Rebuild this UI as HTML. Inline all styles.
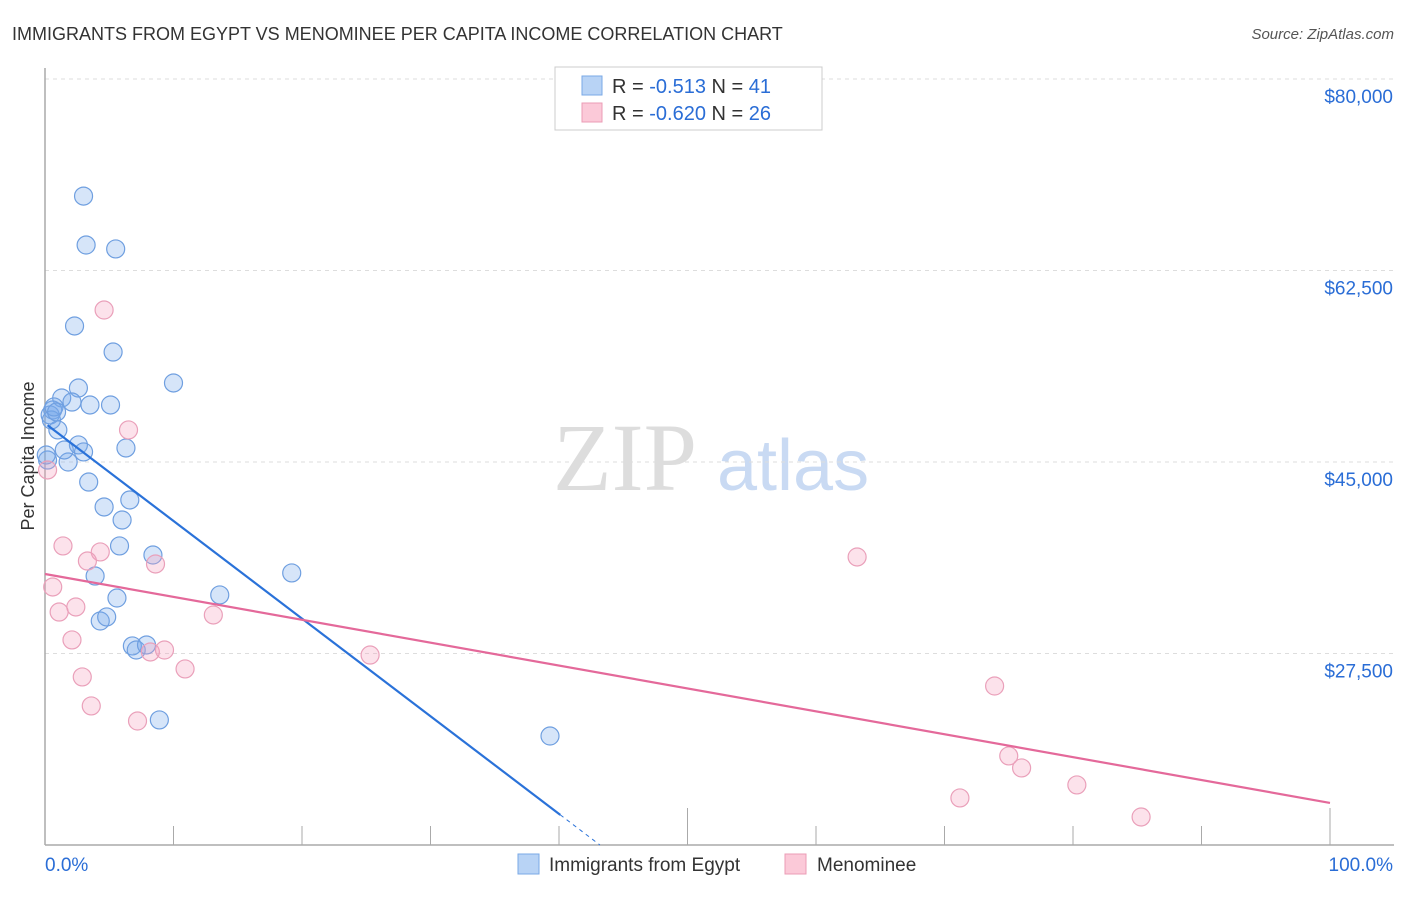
<!DOCTYPE html>
<html><head><meta charset="utf-8"><style>
body{margin:0;background:#fff;font-family:"Liberation Sans",sans-serif;}
</style></head><body>
<svg id="chart" width="1406" height="892" xmlns="http://www.w3.org/2000/svg" font-family="Liberation Sans, sans-serif">
<text x="12" y="40" font-size="18" fill="#333">IMMIGRANTS FROM EGYPT VS MENOMINEE PER CAPITA INCOME CORRELATION CHART</text>
<text x="1394" y="39" font-size="15" fill="#555" text-anchor="end" font-style="italic">Source: ZipAtlas.com</text>
<text x="553" y="490" font-size="96" fill="#ddd" font-family="Liberation Serif, serif">ZIP</text>
<text x="717" y="490" font-size="72" fill="#c9daf3">atlas</text>
<text transform="translate(34,456) rotate(-90)" text-anchor="middle" font-size="18" fill="#333">Per Capita Income</text>
<g id="grid"></g><g id="axes"></g><g id="pts"></g><g id="lines"></g>
<g>
<rect x="555" y="67" width="267" height="63" fill="#fff" stroke="#ccc"/>
<rect x="582" y="76" width="20" height="19" fill="#b8d3f5" stroke="#7aa8e6"/>
<text x="612" y="93" font-size="20" fill="#333">R = <tspan fill="#2a6dd6"> -0.513</tspan>   N = <tspan fill="#2a6dd6">41</tspan></text>
<rect x="582" y="103" width="20" height="19" fill="#fbc9d8" stroke="#eb9cb6"/>
<text x="612" y="120" font-size="20" fill="#333">R = <tspan fill="#2a6dd6">-0.620</tspan>   N = <tspan fill="#2a6dd6">26</tspan></text>
</g>
<g>
<rect x="518" y="854" width="21" height="20" fill="#b8d3f5" stroke="#7aa8e6"/>
<text x="549" y="871" font-size="19" fill="#333">Immigrants from Egypt</text>
<rect x="785" y="854" width="21" height="20" fill="#fbc9d8" stroke="#eb9cb6"/>
<text x="817" y="871" font-size="19" fill="#333">Menominee</text>
</g>
<text x="45" y="871" font-size="19" fill="#2a6dd6">0.0%</text>
<text x="1393" y="871" font-size="19" fill="#2a6dd6" text-anchor="end">100.0%</text>
</svg>
<script>
const yTicks=[80000,62500,45000,27500];
const yTickLabels=["$80,000","$62,500","$45,000","$27,500"];
const egyptX=[3.0,3.2,5.5,2.3,5.3,10.0,2.6,1.3,2.1,3.5,5.1,0.6,0.4,1.0,2.6,3.0,6.3,1.8,1.5,3.4,4.6,6.6,6.0,5.8,8.4,3.9,19.2,5.6,13.6,4.3,4.8,6.8,7.1,7.9,8.9,39.3,0.5,0.2,0.7,0.9,0.1];
const egyptY=[69300,64830,64470,57430,55050,52220,51760,50850,50480,50210,50210,49750,49300,47930,46560,45920,46280,45000,46100,43170,40890,41530,39700,37330,36500,34580,34860,32570,32850,30470,30840,28190,27820,28280,21430,19960,48840,45180,50030,49570,45640];
const menX=[4.6,6.5,0.2,1.4,4.3,3.3,8.6,63.2,0.6,2.4,1.1,13.1,2.1,8.2,9.3,10.9,2.9,3.6,7.2,25.3,73.9,75.0,76.0,80.3,71.2,85.3];
const menY=[58890,47930,44270,37330,36780,35950,35680,36320,33580,31750,31290,31020,28740,27640,27820,26090,25360,22710,21330,27360,24530,18140,17040,15490,14300,12560];
const NS="http://www.w3.org/2000/svg";
const X0=45,X1=1330,YTOP=79,YBOT=845;
const xs=p=>X0+(X1-X0)*p/100;
const ys=v=>YTOP+(80000-v)*191.5/17500;
function mk(t,a,parent){const e=document.createElementNS(NS,t);for(const k in a)e.setAttribute(k,a[k]);document.getElementById(parent).appendChild(e);return e;}
yTicks.forEach((v,i)=>{
 const l=mk('line',{x1:X0,x2:1394,y1:ys(v),y2:ys(v),stroke:'#ddd','stroke-dasharray':'4,4'},'grid');
 
 
 const t=mk('text',{x:1393,y:ys(v)+24,'text-anchor':'end','font-size':19,fill:'#2a6dd6'},'grid');
 t.textContent=yTickLabels[i];
 
 
});
const ax=mk('line',{x1:X0,x2:1394,y1:YBOT,y2:YBOT,stroke:'#aaa','stroke-width':1.5},'axes');


const ay=mk('line',{x1:X0,x2:X0,y1:68,y2:YBOT,stroke:'#aaa','stroke-width':1.5},'axes');


for(let i=1;i<=10;i++){
 const tk=mk('line',{x1:xs(i*10),x2:xs(i*10),y1:YBOT,y2:(i==5||i==10)?808:826,stroke:'#aaa'},'axes');
 
 
}
function pts(X,Y,fill,stroke,name){
 X.forEach((x,i)=>{
  const c=mk('circle',{cx:xs(x),cy:ys(Y[i]),r:9,fill:fill,stroke:stroke,'stroke-width':1.2},'pts');
  
  
 });
}
pts(egyptX,egyptY,'rgba(120,170,235,0.3)','#6f9fe0','egypt-point');
pts(menX,menY,'rgba(245,160,190,0.3)','#eaa0ba','menominee-point');
function fit(X,Y){const n=X.length;let mx=0,my=0;X.forEach((x,i)=>{mx+=x;my+=Y[i];});mx/=n;my/=n;let sxy=0,sxx=0;X.forEach((x,i)=>{sxy+=(x-mx)*(Y[i]-my);sxx+=(x-mx)**2;});const b=sxy/sxx;return [my-b*mx,b];}
const [ea,eb]=fit(egyptX,egyptY);
const eMax=Math.max(...egyptX);
const xEnd=Math.min(100,(10000-ea)/eb);
const xSolid=Math.min(eMax+0.8,xEnd);
const bl=mk('line',{x1:xs(0.2),y1:ys(ea+eb*0.2),x2:xs(xSolid),y2:ys(ea+eb*xSolid),stroke:'#2a72d9','stroke-width':2.2},'lines');


const bd=mk('line',{x1:xs(xSolid),y1:ys(ea+eb*xSolid),x2:xs(xEnd),y2:ys(ea+eb*xEnd),stroke:'#2a72d9','stroke-width':1,'stroke-dasharray':'4,4'},'lines');


const [ma,mb]=fit(menX,menY);
const pl=mk('line',{x1:xs(0),y1:ys(ma),x2:xs(100),y2:ys(ma+mb*100),stroke:'#e4699a','stroke-width':2.2},'lines');


</script>
</body></html>
